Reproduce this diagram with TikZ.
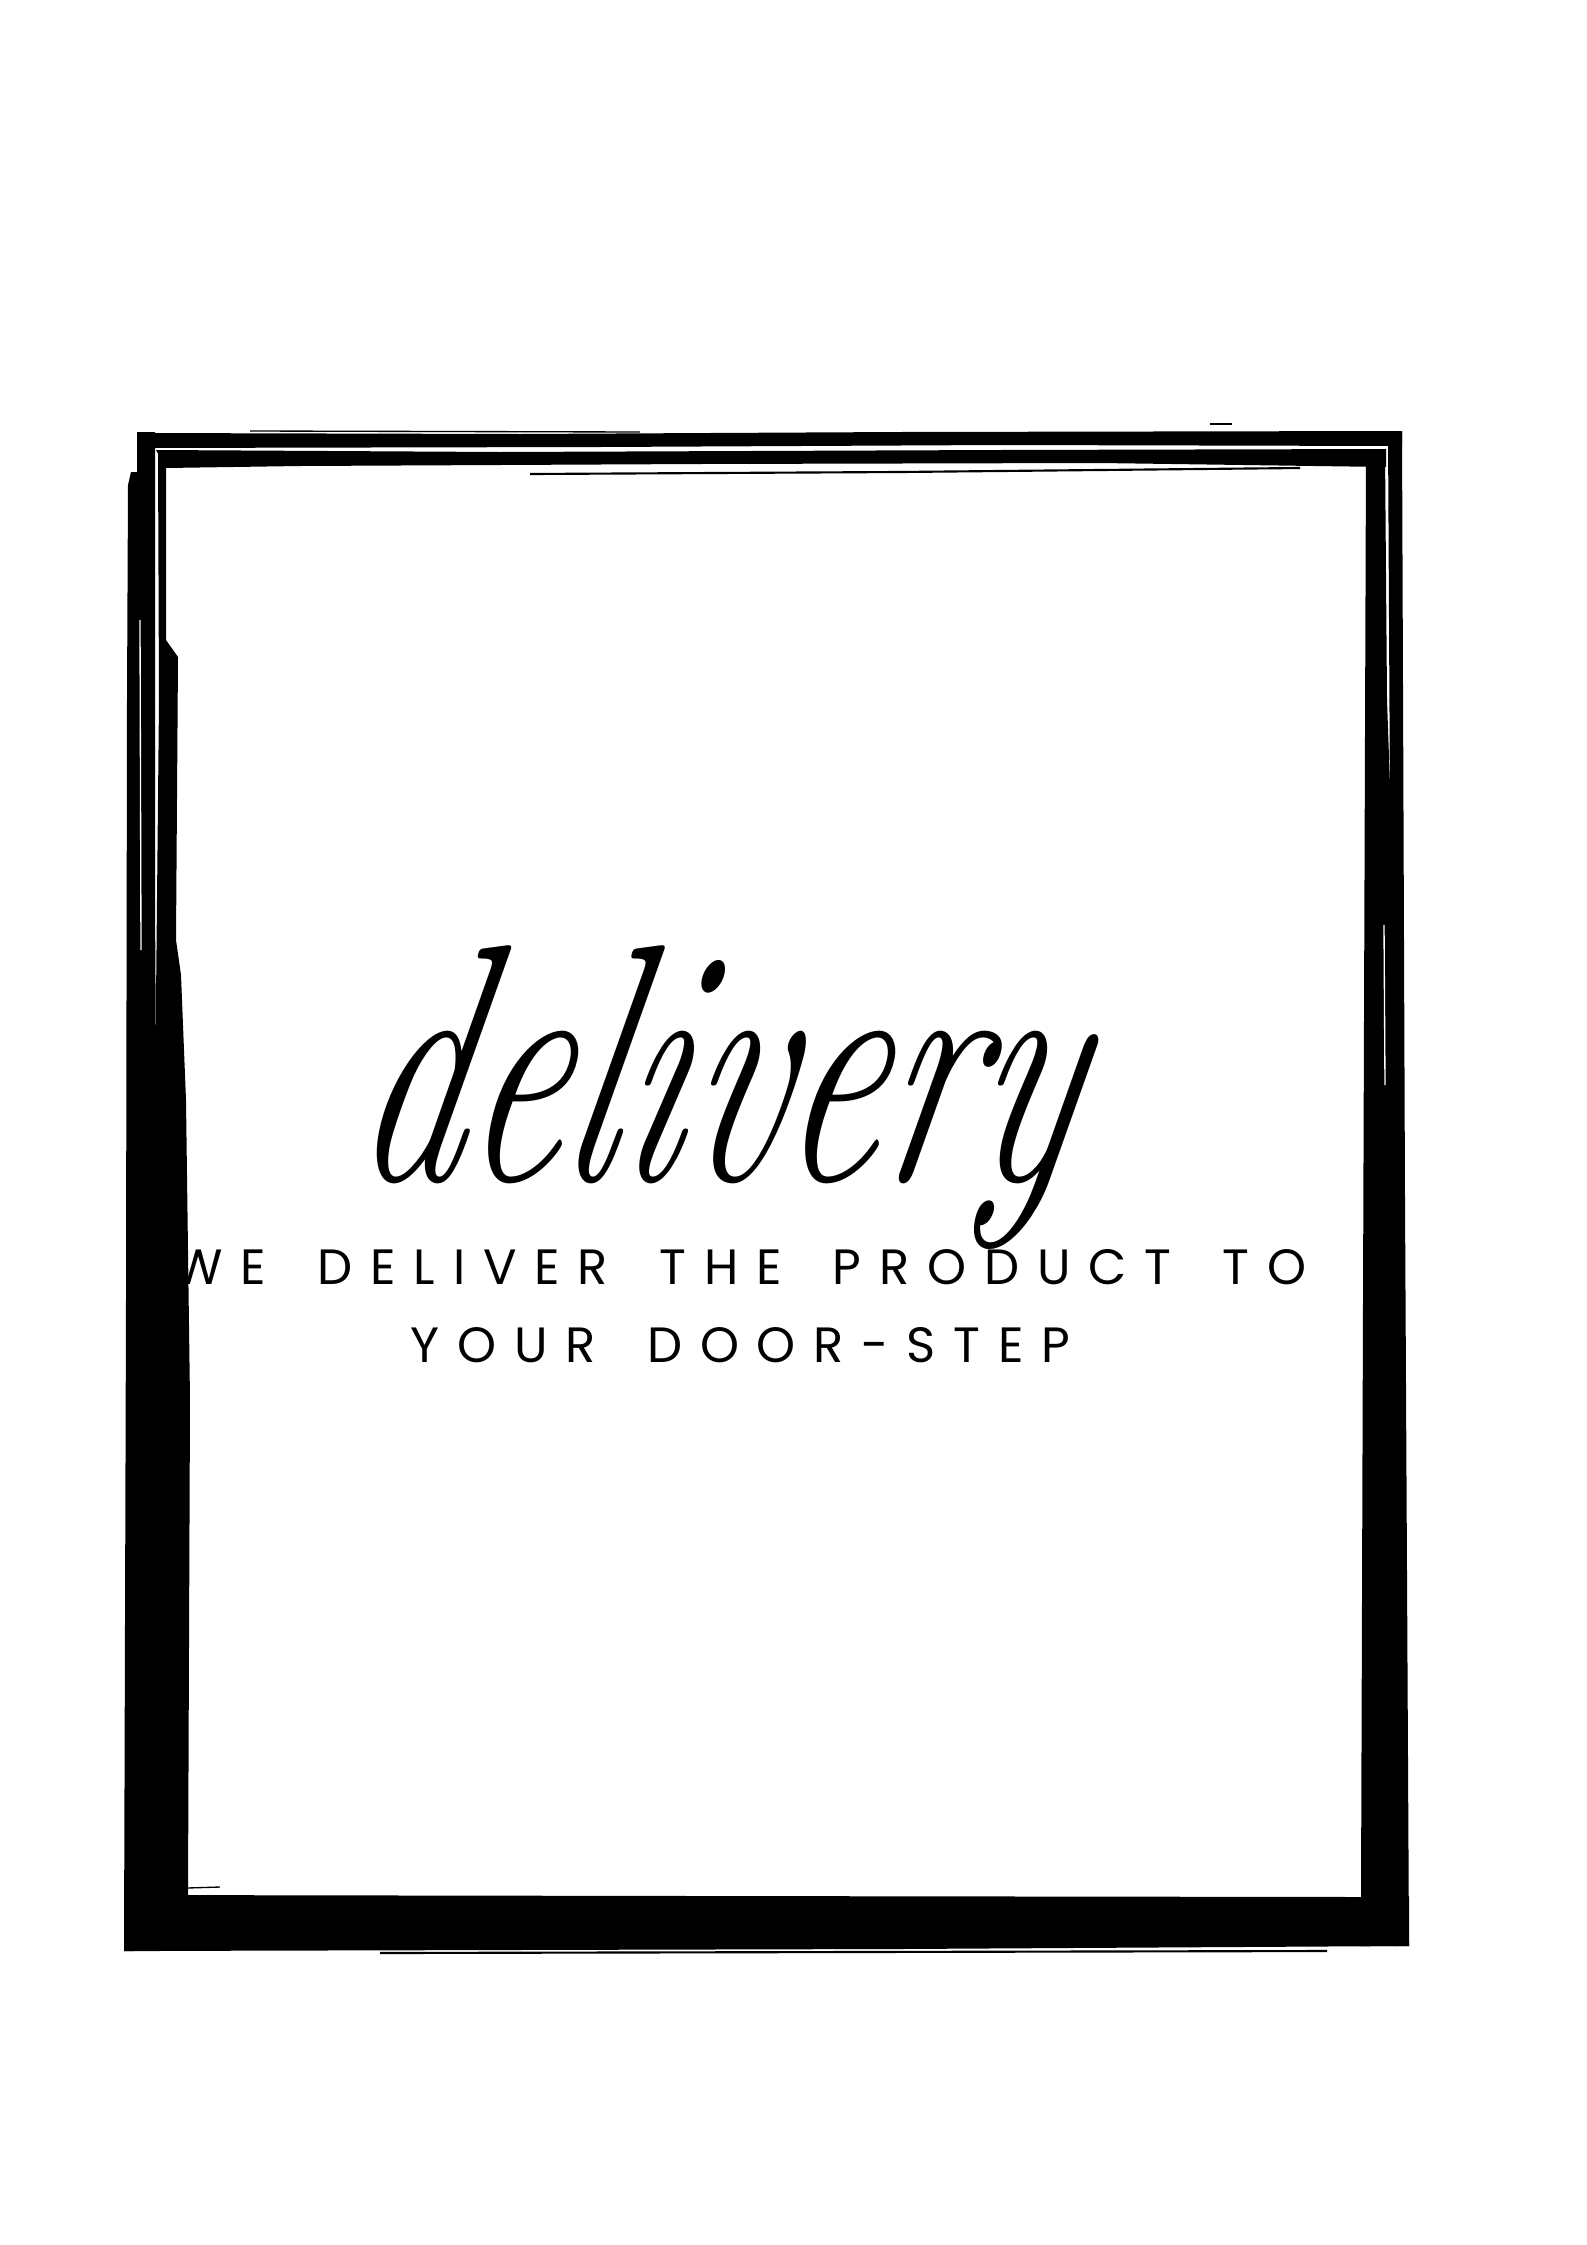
\documentclass[tikz,border=0pt]{standalone}
\usepackage{fontspec}
\usetikzlibrary{positioning}
\newfontfamily\capsfont{Poppins}[LetterSpace=36, WordSpace=1.65]

\begin{document}
\begin{tikzpicture}[x=0.375pt, y=-0.375pt,
	brush/.style={fill=black},
	hair/.style={draw=black, line width=0.8pt},
	streak/.style={draw=white, line width=0.5pt}]
	\path[fill=white] (0,0) rectangle (1587,2245);

	% script word, squeezed and slanted to sit in the frame
	\node [anchor=base, inner sep=0pt, xscale=0.82, yscale=1.27, xslant=0.3] (dl) at (706,1180)
		{\fontsize{100}{100}\selectfont\itshape delivery};
	\node [below=26pt of dl.base, xshift=13pt, inner sep=0pt, align=center,
		font=\capsfont\fontsize{18.6}{29}\selectfont] (sub) {WE DELIVER THE PRODUCT TO\\YOUR DOOR-STEP};

	% brush frame, drawn last so that it runs over the W
	\begin{scope}
	\fill[brush] (137,433) -- (520,434) -- (900,432) -- (1402,431) -- (1402,446) -- (1000,445) -- (600,447) -- (137,448) -- cycle;
	\fill[brush] (156,450) -- (500,452) -- (1000,450) -- (1386,449) -- (1386,467) -- (1100,463) -- (700,464) -- (300,466) -- (166,468) -- cycle;
	\fill[brush] (1388,431) -- (1402,431) -- (1405,1200) -- (1409,1946) -- (1394,1946) -- (1391,1000) -- cycle;
	\fill[brush] (1366,450) -- (1385,450) -- (1387,700) -- (1394,900) -- (1396,1946) -- (1361,1946) -- (1361,1897) -- (1363,1300) -- cycle;
	\fill[brush] (137,432) -- (155,432) -- (155,900) -- (158,1400) -- (160,1951) -- (124,1951) -- (126,1300) -- (127,700) -- (128,485) -- (131,472) -- (137,472) -- cycle;
	\fill[brush] (158,450) -- (166,450) -- (166,640) -- (178,657) -- (176,940) -- (181,975) -- (186,1100) -- (190,1400) -- (188,1895) -- (156,1895) -- (156,1000) -- (159,700) -- cycle;
	\fill[brush] (124,1895) -- (700,1896) -- (1361,1897) -- (1409,1897) -- (1409,1946) -- (900,1949) -- (124,1951) -- cycle;
	% loose bristles
	\draw[hair] (530,474) -- (900,472) -- (1300,468);
	\draw[hair, line width=0.5pt] (250,431) -- (640,432);
	\draw[hair, line width=0.4pt] (1210,424) -- (1232,424);
	\draw[hair] (380,1953) -- (1327,1951);
	\draw[hair, line width=0.5pt] (187,1888) -- (220,1887);
	\draw[streak] (140,620) -- (141,950);
	\draw[streak] (1384,925) -- (1385,1085);
	\end{scope}
\end{tikzpicture}
\end{document}
